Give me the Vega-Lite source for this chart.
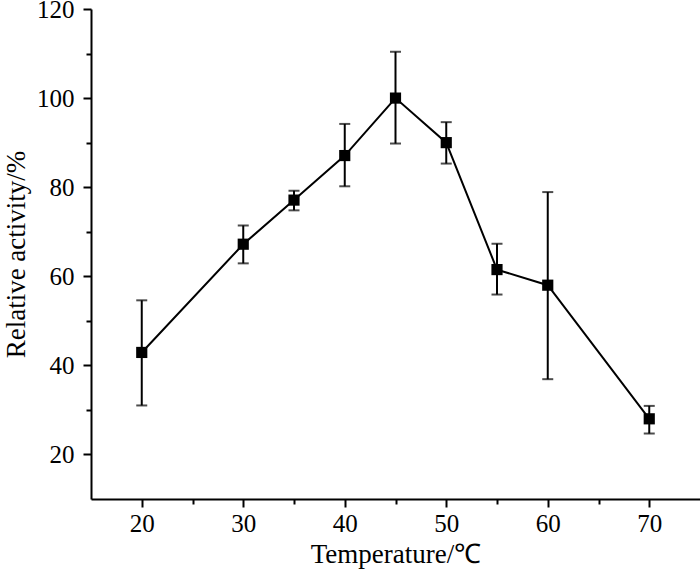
{
  "$schema": "https://vega.github.io/schema/vega-lite/v6.json",
  "width": 609,
  "height": 490,
  "autosize": "none",
  "padding": {"left": 91, "top": 9, "right": 0, "bottom": 74},
  "background": "white",
  "config": {
    "view": {"stroke": null},
    "font": "Liberation Serif",
    "axis": {
      "domainColor": "black",
      "domainWidth": 2,
      "tickColor": "black",
      "tickWidth": 2,
      "grid": false,
      "labelFont": "Liberation Serif",
      "labelFontSize": 25,
      "labelColor": "black",
      "labelOverlap": false,
      "titleFont": "Liberation Serif",
      "titleFontSize": 27,
      "titleFontWeight": "normal",
      "titleColor": "black"
    }
  },
  "data": {
    "values": [
      {"temp": 20, "activity": 42.9, "lo": 31.0, "hi": 54.6},
      {"temp": 30, "activity": 67.2, "lo": 62.9, "hi": 71.4},
      {"temp": 35, "activity": 77.1, "lo": 74.8, "hi": 79.2},
      {"temp": 40, "activity": 87.1, "lo": 80.2, "hi": 94.2},
      {"temp": 45, "activity": 100.0, "lo": 89.8, "hi": 110.4},
      {"temp": 50, "activity": 90.0, "lo": 85.3, "hi": 94.6},
      {"temp": 55, "activity": 61.5, "lo": 55.9, "hi": 67.3},
      {"temp": 60, "activity": 58.0, "lo": 36.9, "hi": 78.9},
      {"temp": 70, "activity": 28.0, "lo": 24.7, "hi": 30.9}
    ]
  },
  "encoding": {
    "x": {
      "field": "temp",
      "type": "quantitative",
      "scale": {"domain": [15, 75], "nice": false},
      "axis": {
        "title": "Temperature/℃",
        "values": [20, 25, 30, 35, 40, 45, 50, 55, 60, 65, 70],
        "labelExpr": "datum.value % 10 === 0 ? datum.label : ''",
        "tickSize": {"condition": {"test": "datum.value % 10 === 0", "value": 8}, "value": 5},
        "labelPadding": 4,
        "titlePadding": 5
      }
    }
  },
  "layer": [
    {
      "mark": {"type": "rule", "color": "black", "strokeWidth": 2},
      "encoding": {
        "y": {
          "field": "lo",
          "type": "quantitative",
          "scale": {"domain": [10, 120], "nice": false},
          "axis": {
            "title": "Relative activity/%",
            "values": [20, 30, 40, 50, 60, 70, 80, 90, 100, 110, 120],
            "labelExpr": "datum.value % 20 === 0 ? datum.label : ''",
            "tickSize": {"condition": {"test": "datum.value % 20 === 0", "value": 8}, "value": 5},
            "labelPadding": 9,
            "titlePadding": 6
          }
        },
        "y2": {"field": "hi"}
      }
    },
    {
      "mark": {"type": "tick", "color": "black", "orient": "horizontal", "size": 11, "thickness": 2},
      "encoding": {"y": {"field": "lo", "type": "quantitative"}}
    },
    {
      "mark": {"type": "tick", "color": "black", "orient": "horizontal", "size": 11, "thickness": 2},
      "encoding": {"y": {"field": "hi", "type": "quantitative"}}
    },
    {
      "mark": {"type": "line", "color": "black", "strokeWidth": 2},
      "encoding": {"y": {"field": "activity", "type": "quantitative"}}
    },
    {
      "mark": {"type": "point", "shape": "square", "filled": true, "color": "black", "opacity": 1, "size": 125},
      "encoding": {"y": {"field": "activity", "type": "quantitative"}}
    }
  ]
}
